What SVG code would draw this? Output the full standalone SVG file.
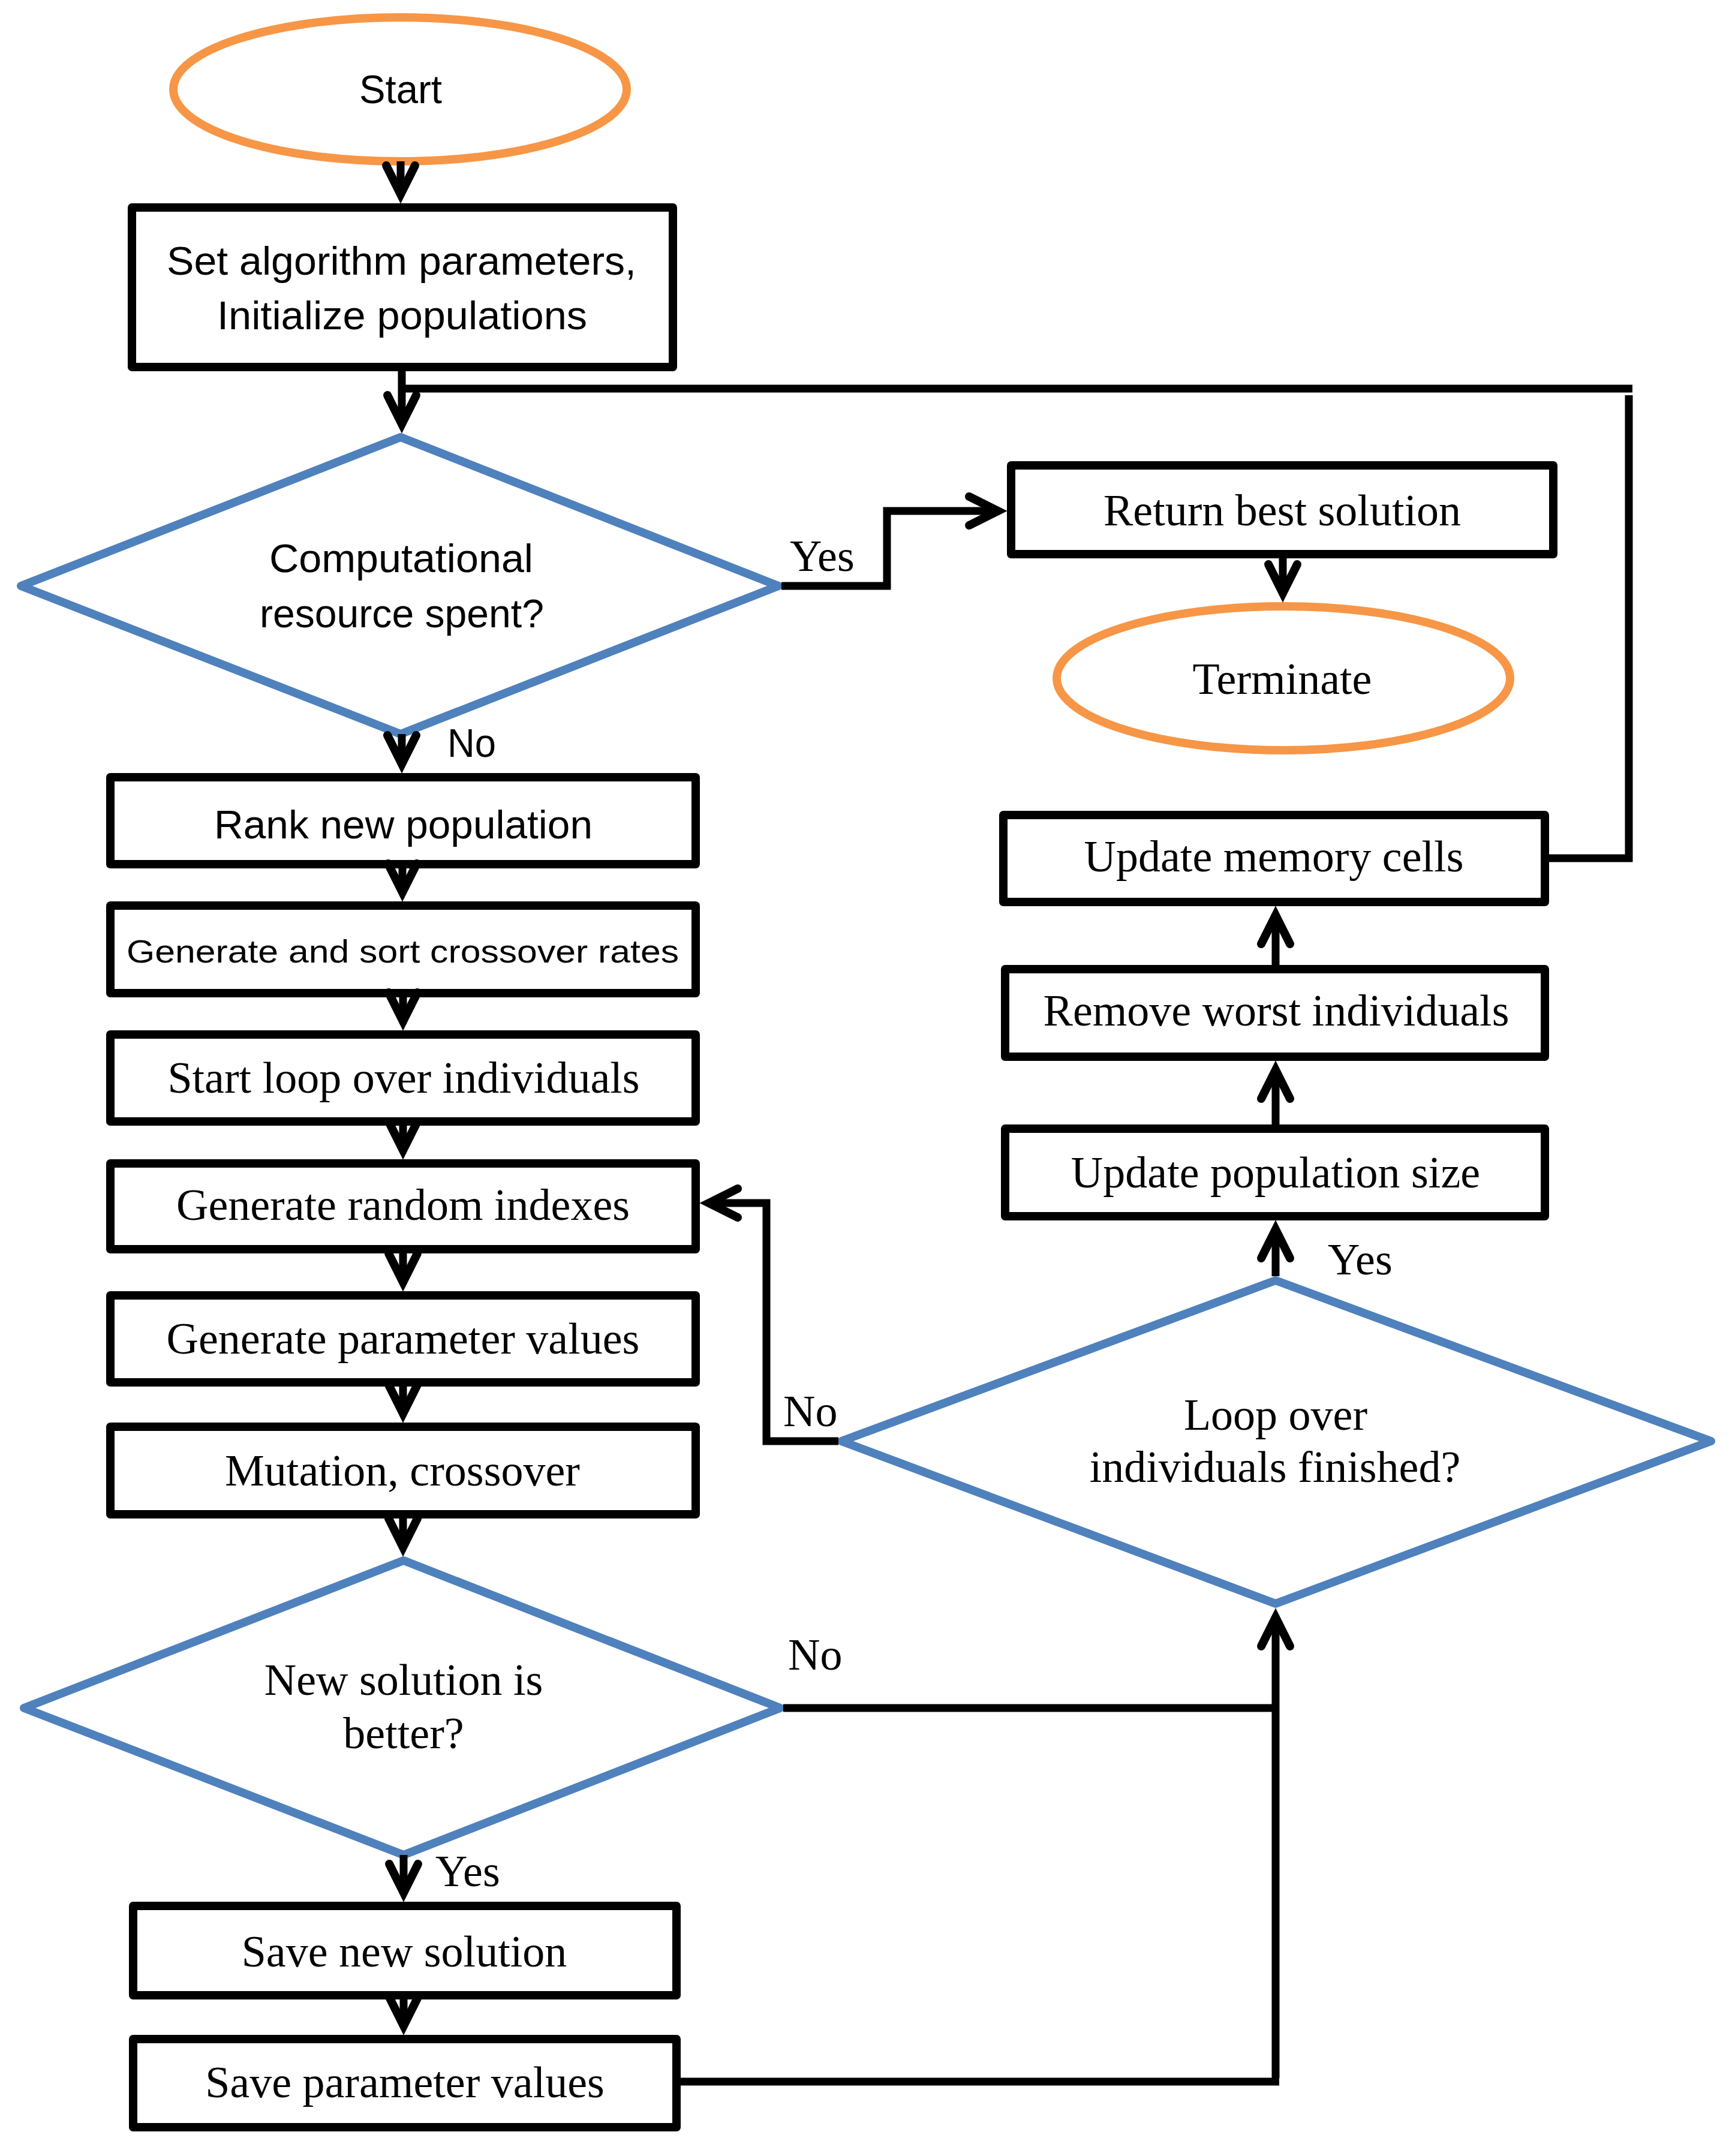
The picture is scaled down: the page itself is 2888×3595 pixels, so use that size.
<svg xmlns="http://www.w3.org/2000/svg" width="2888" height="3595" viewBox="0 0 2888 3595">
<style>
.box{fill:#fff;stroke:#000;stroke-width:14;stroke-linejoin:round}
.term{fill:#fff;stroke:#F79646;stroke-width:14}
.dec{fill:#fff;stroke:#4F81BD;stroke-width:14;stroke-linejoin:round}
.con{fill:none;stroke:#000;stroke-width:13;stroke-linejoin:miter}
.sans{font-family:"Liberation Sans",Arial,sans-serif;font-size:66px;fill:#000}
.serif{font-family:"Liberation Serif","Times New Roman",serif;font-size:74px;fill:#000;text-anchor:middle}
.lbl{font-family:"Liberation Serif","Times New Roman",serif;font-size:74px;fill:#000}
</style>
<defs>
<marker id="arr" markerUnits="userSpaceOnUse" viewBox="-70 -40 100 80" refX="0" refY="0" markerWidth="100" markerHeight="80" orient="auto" overflow="visible">
<path d="M-48,-24 L0,0 L-48,24" fill="none" stroke="#000" stroke-width="14" stroke-linecap="round" stroke-linejoin="miter"/>
</marker>
</defs>
<rect x="0" y="0" width="2888" height="3595" fill="#fff"/>

<g id="start">
<ellipse class="term" cx="667" cy="149" rx="378" ry="120"/>
<text class="sans" x="599" y="172" textLength="138" lengthAdjust="spacingAndGlyphs">Start</text>
</g>
<g id="init">
<rect class="box" x="220" y="346" width="902" height="266"/>
<text class="sans" x="278" y="458" textLength="783" lengthAdjust="spacingAndGlyphs">Set algorithm parameters,</text>
<text class="sans" x="362" y="549" textLength="617" lengthAdjust="spacingAndGlyphs">Initialize populations</text>
</g>
<g id="budget">
<polygon class="dec" points="668,729 1298,977 668,1224 35,977"/>
<text class="sans" x="449" y="954" textLength="440" lengthAdjust="spacingAndGlyphs">Computational</text>
<text class="sans" x="433" y="1046" textLength="474" lengthAdjust="spacingAndGlyphs">resource spent?</text>
</g>
<g id="return">
<rect class="box" x="1686" y="776" width="904" height="148"/>
<text class="serif" x="2138" y="876">Return best solution</text>
</g>
<g id="terminate">
<ellipse class="term" cx="2140" cy="1131" rx="378" ry="120"/>
<text class="serif" x="2138" y="1157">Terminate</text>
</g>
<g id="rank">
<rect class="box" x="184" y="1296" width="976" height="145"/>
<text class="sans" x="357" y="1398" textLength="631" lengthAdjust="spacingAndGlyphs">Rank new population</text>
</g>
<g id="crossrates">
<rect class="box" x="184" y="1510" width="976" height="146"/>
<text class="sans" x="211" y="1605" style="font-size:54px" textLength="921" lengthAdjust="spacingAndGlyphs">Generate and sort crossover rates</text>
</g>
<g id="loopstart">
<rect class="box" x="184" y="1725" width="976" height="145"/>
<text class="serif" x="673" y="1822">Start loop over individuals</text>
</g>
<g id="randidx">
<rect class="box" x="184" y="1940" width="976" height="143"/>
<text class="serif" x="672" y="2034">Generate random indexes</text>
</g>
<g id="paramvals">
<rect class="box" x="184" y="2160" width="976" height="145"/>
<text class="serif" x="672" y="2257">Generate parameter values</text>
</g>
<g id="mutation">
<rect class="box" x="184" y="2379" width="976" height="146"/>
<text class="serif" x="671" y="2477">Mutation, crossover</text>
</g>
<g id="better">
<polygon class="dec" points="673,2602 1301,2848 673,3093 40,2848"/>
<text class="serif" x="673" y="2826">New solution is</text>
<text class="serif" x="673" y="2915">better?</text>
</g>
<g id="savenew">
<rect class="box" x="222" y="3178" width="906" height="149"/>
<text class="serif" x="674" y="3279">Save new solution</text>
</g>
<g id="saveparam">
<rect class="box" x="222" y="3400" width="906" height="147"/>
<text class="serif" x="675" y="3497">Save parameter values</text>
</g>
<g id="loopdone">
<polygon class="dec" points="2127,2135 2853,2403 2127,2674 1403,2403"/>
<text class="serif" x="2127" y="2384">Loop over</text>
<text class="serif" x="2126" y="2471">individuals finished?</text>
</g>
<g id="popsize">
<rect class="box" x="1676" y="1882" width="900" height="146"/>
<text class="serif" x="2127" y="1980">Update population size</text>
</g>
<g id="removeworst">
<rect class="box" x="1676" y="1616" width="900" height="146"/>
<text class="serif" x="2128" y="1710">Remove worst individuals</text>
</g>
<g id="memory">
<rect class="box" x="1673" y="1359" width="903" height="145"/>
<text class="serif" x="2124" y="1453">Update memory cells</text>
</g>

<g id="connectors">
<line class="con" x1="668" y1="269" x2="668" y2="324" marker-end="url(#arr)"/>
<line class="con" x1="670" y1="612" x2="670" y2="707" marker-end="url(#arr)"/>
<line class="con" x1="664" y1="648" x2="2722" y2="648"/>
<line class="con" x1="2716" y1="659" x2="2716" y2="1437"/>
<line class="con" x1="2583" y1="1431" x2="2722" y2="1431"/>
<polyline class="con" points="1303,977 1479,977 1479,852 1664,852" marker-end="url(#arr)"/>
<line class="con" x1="2139" y1="924" x2="2139" y2="989" marker-end="url(#arr)"/>
<line class="con" x1="670" y1="1224" x2="670" y2="1274" marker-end="url(#arr)"/>
<line class="con" x1="671" y1="1441" x2="671" y2="1488" marker-end="url(#arr)"/>
<line class="con" x1="672" y1="1656" x2="672" y2="1703" marker-end="url(#arr)"/>
<line class="con" x1="672" y1="1870" x2="672" y2="1918" marker-end="url(#arr)"/>
<line class="con" x1="672" y1="2083" x2="672" y2="2138" marker-end="url(#arr)"/>
<line class="con" x1="672" y1="2305" x2="672" y2="2357" marker-end="url(#arr)"/>
<line class="con" x1="672" y1="2525" x2="672" y2="2580" marker-end="url(#arr)"/>
<line class="con" x1="673" y1="3093" x2="673" y2="3156" marker-end="url(#arr)"/>
<line class="con" x1="673" y1="3327" x2="673" y2="3378" marker-end="url(#arr)"/>
<line class="con" x1="1135" y1="3471" x2="2133" y2="3471"/>
<line class="con" x1="2127" y1="3465" x2="2127" y2="2697" marker-end="url(#arr)"/>
<line class="con" x1="1306" y1="2848" x2="2122" y2="2848"/>
<polyline class="con" points="1398,2403 1278,2403 1278,2006 1182,2006" marker-end="url(#arr)"/>
<line class="con" x1="2127" y1="2128" x2="2127" y2="2050" marker-end="url(#arr)"/>
<line class="con" x1="2127" y1="1875" x2="2127" y2="1784" marker-end="url(#arr)"/>
<line class="con" x1="2127" y1="1609" x2="2127" y2="1526" marker-end="url(#arr)"/>
<text class="lbl" x="1317" y="952">Yes</text>
<text class="sans" x="746" y="1262" textLength="81" lengthAdjust="spacingAndGlyphs">No</text>
<text class="lbl" x="2214" y="2125">Yes</text>
<text class="lbl" x="1306" y="2378">No</text>
<text class="lbl" x="1314" y="2784">No</text>
<text class="lbl" x="726" y="3145">Yes</text>
</g>
</svg>
